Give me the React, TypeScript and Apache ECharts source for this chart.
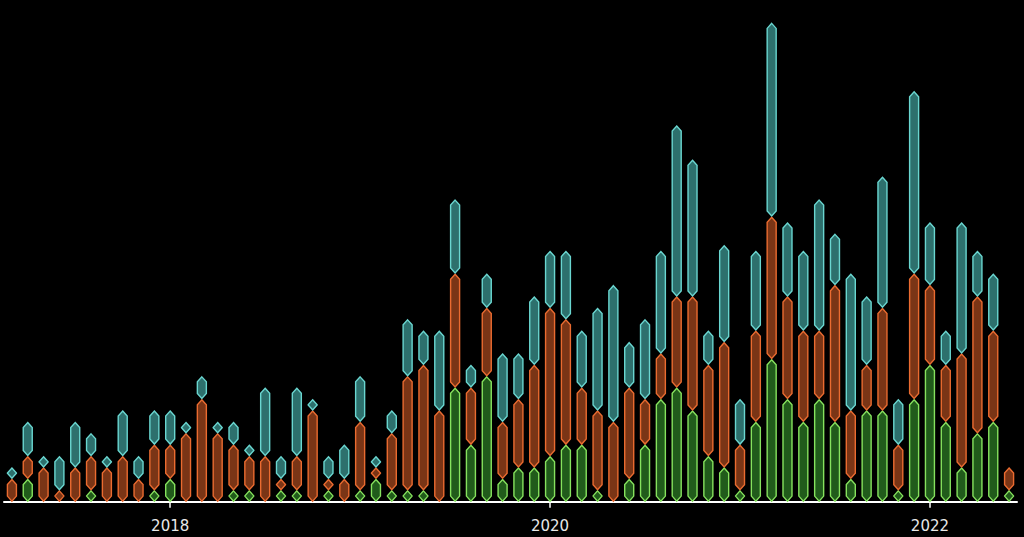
import React, { useEffect, useRef } from 'react';
import * as echarts from 'echarts';

const months: string[] = [
  '2017-03','2017-04','2017-05','2017-06','2017-07','2017-08','2017-09','2017-10','2017-11','2017-12',
  '2018-01','2018-02','2018-03','2018-04','2018-05','2018-06','2018-07','2018-08','2018-09','2018-10','2018-11','2018-12',
  '2019-01','2019-02','2019-03','2019-04','2019-05','2019-06','2019-07','2019-08','2019-09','2019-10','2019-11','2019-12',
  '2020-01','2020-02','2020-03','2020-04','2020-05','2020-06','2020-07','2020-08','2020-09','2020-10','2020-11','2020-12',
  '2021-01','2021-02','2021-03','2021-04','2021-05','2021-06','2021-07','2021-08','2021-09','2021-10','2021-11','2021-12',
  '2022-01','2022-02','2022-03','2022-04','2022-05','2022-06',
];

const green: number[] = [
  0, 2, 0, 0, 0, 1, 0, 0, 0, 1,
  2, 0, 0, 0, 1, 1, 0, 1, 1, 0, 1, 0,
  1, 2, 1, 1, 1, 0, 10, 5, 11, 2, 3, 3,
  4, 5, 5, 1, 0, 2, 5, 9, 10, 8, 4, 3,
  1, 7, 12.5, 9, 7, 9, 7, 2, 8, 8, 1, 9,
  12, 7, 3, 6, 7, 1,
];

const orange: number[] = [
  2, 2, 3, 1, 3, 3, 3, 4, 2, 4,
  3, 6, 9, 6, 4, 3, 4, 1, 3, 8, 1, 2,
  6, 1, 5, 10, 11, 8, 10, 5, 6, 5, 6, 9,
  13, 11, 5, 7, 7, 8, 4, 4, 8, 10, 8, 11,
  4, 8, 12.5, 9, 8, 6, 12, 6, 4, 9, 4, 11,
  7, 5, 10, 12, 8, 2,
];

const teal: number[] = [
  1, 3, 1, 3, 4, 2, 1, 4, 2, 3,
  3, 1, 2, 1, 2, 1, 6, 2, 6, 1, 2, 3,
  4, 1, 2, 5, 3, 7, 6.5, 2, 3, 6, 4, 6,
  5, 6, 5, 9, 12, 4, 7, 9, 15, 12, 3, 8.5,
  4, 7, 17, 6.5, 7, 11.5, 4.5, 12, 6, 11.5, 4, 16,
  5.5, 3, 11.5, 4, 5, 0,
];

const yearTicks: string[] = ['2018', '2020', '2022'];

const COLORS = {
  green: { fill: '#215b1b', stroke: '#86e25e' },
  orange: { fill: '#7a3516', stroke: '#ea6b30' },
  teal: { fill: '#2d706d', stroke: '#6ad6d0' },
};

export default function App() {
  const ref = useRef<HTMLDivElement>(null);

  useEffect(() => {
    if (!ref.current) return;
    const chart = echarts.init(ref.current, undefined, { renderer: 'svg' });

    const greenSeg = green.map((v, i) => [i, 0, v]);
    const orangeSeg = orange.map((v, i) => [i, green[i], green[i] + v]);
    const tealSeg = teal.map((v, i) => [i, green[i] + orange[i], green[i] + orange[i] + v]);

    const makeRender = (fill: string, stroke: string) => (params: any, api: any) => {
      const idx = api.value(0);
      const y0 = api.value(1);
      const y1 = api.value(2);
      if (!(y1 > y0)) return null;
      const p0 = api.coord([idx, y0]);
      const p1 = api.coord([idx, y1]);
      const cx = p0[0];
      const hw = 4.5;
      const inset = 0.6;
      const yb = p0[1] - inset;
      const yt = p1[1] + inset;
      const h = yb - yt;
      const c = Math.min(5, h / 2);
      const points = [
        [cx, yt],
        [cx + hw, yt + c],
        [cx + hw, yb - c],
        [cx, yb],
        [cx - hw, yb - c],
        [cx - hw, yt + c],
      ];
      return {
        type: 'polygon',
        shape: { points },
        style: { fill, stroke, lineWidth: 1.4 },
      };
    };

    const isYearStart = (index: number, value: string) => {
      const v = months[index] ?? value;
      return v.endsWith('-01') && yearTicks.includes(v.slice(0, 4));
    };

    chart.setOption({
      animation: false,
      backgroundColor: '#000000',
      grid: { left: 4, right: 7, top: 0, bottom: 35.3 },
      xAxis: {
        type: 'category',
        data: months,
        boundaryGap: true,
        axisLine: { show: true, lineStyle: { color: '#ffffff', width: 2 } },
        axisTick: {
          show: true,
          alignWithLabel: true,
          interval: isYearStart,
          length: 6,
          lineStyle: { color: '#ffffff', width: 1.5 },
        },
        axisLabel: {
          interval: isYearStart,
          formatter: (v: string) => v.slice(0, 4),
          color: '#e8e8e8',
          fontSize: 15,
          fontFamily: 'DejaVu Sans',
          margin: 17,
        },
        splitLine: { show: false },
      },
      yAxis: {
        type: 'value',
        min: 0,
        max: 44,
        show: false,
        splitLine: { show: false },
      },
      series: [
        {
          type: 'custom',
          name: 'green',
          renderItem: makeRender(COLORS.green.fill, COLORS.green.stroke),
          encode: { x: 0, y: [1, 2] },
          data: greenSeg,
        },
        {
          type: 'custom',
          name: 'orange',
          renderItem: makeRender(COLORS.orange.fill, COLORS.orange.stroke),
          encode: { x: 0, y: [1, 2] },
          data: orangeSeg,
        },
        {
          type: 'custom',
          name: 'teal',
          renderItem: makeRender(COLORS.teal.fill, COLORS.teal.stroke),
          encode: { x: 0, y: [1, 2] },
          data: tealSeg,
        },
      ],
    });

    return () => {
      chart.dispose();
    };
  }, []);

  return (
    <div
      ref={ref}
      style={{ position: 'fixed', left: 0, top: 0, width: '1024px', height: '537px', background: '#000' }}
    />
  );
}
